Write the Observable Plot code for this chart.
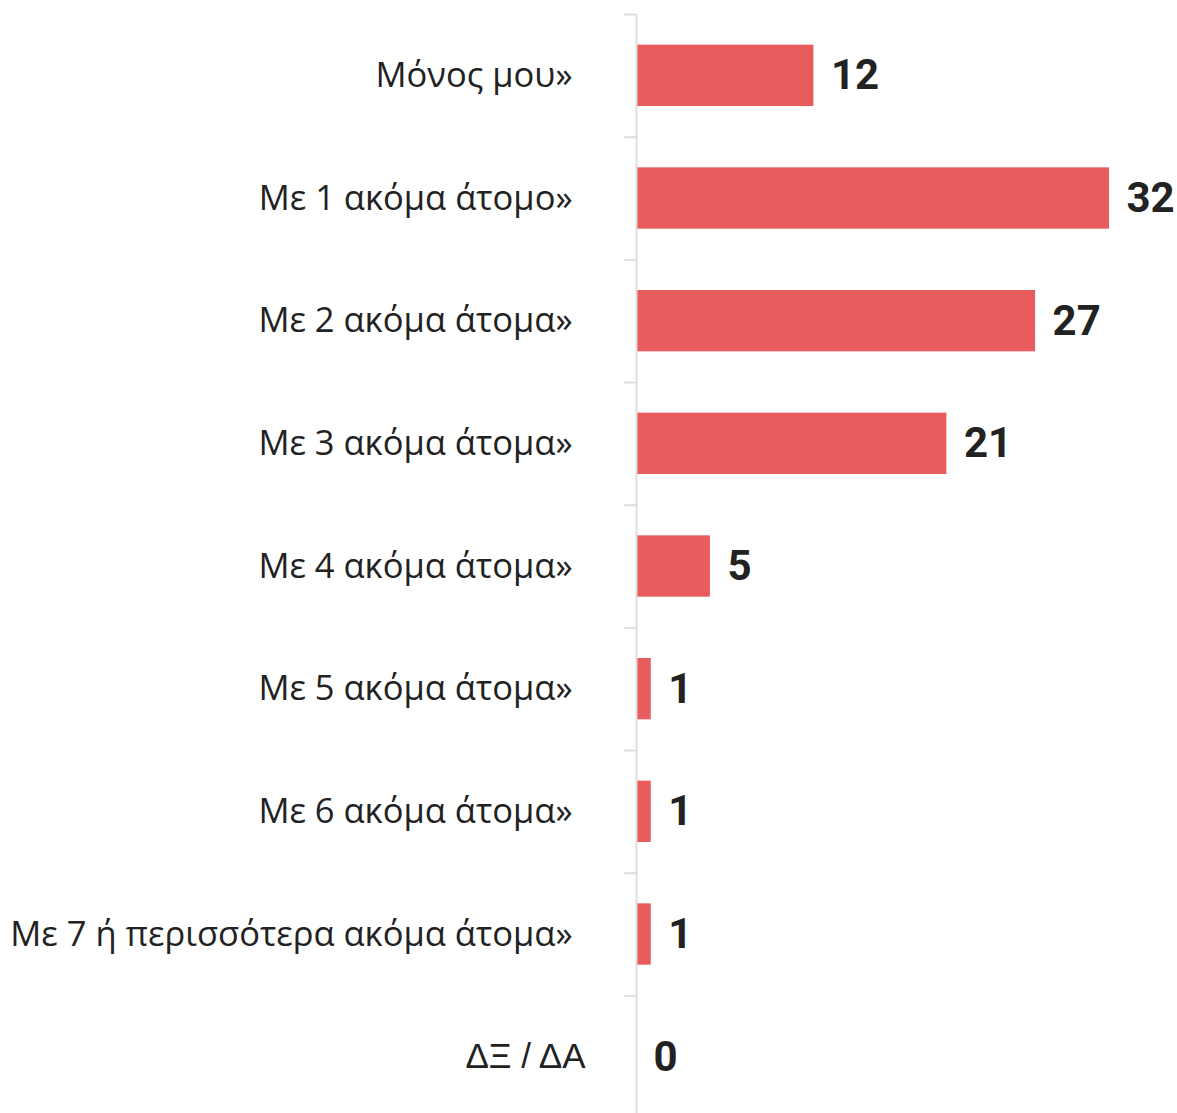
<!DOCTYPE html>
<html>
<head>
<meta charset="utf-8">
<script src="https://cdn.jsdelivr.net/npm/d3@7"></script>
<script src="https://cdn.jsdelivr.net/npm/@observablehq/plot@0.6"></script>
<style>
  html, body { margin: 0; padding: 0; background: #fff; overflow: hidden; }
  #chart svg { display: block; }
</style>
</head>
<body>
<div id="chart"></div>
<script>
const categories = [
  "Μόνος μου»",
  "Με 1 ακόμα άτομο»",
  "Με 2 ακόμα άτομα»",
  "Με 3 ακόμα άτομα»",
  "Με 4 ακόμα άτομα»",
  "Με 5 ακόμα άτομα»",
  "Με 6 ακόμα άτομα»",
  "Με 7 ή περισσότερα ακόμα άτομα»",
  "ΔΞ / ΔΑ"
];
const values = [12, 32, 27, 21, 5, 1, 1, 1, 0];

const data = categories.map((c, i) => ({category: c, value: values[i]}));

const width = 1177, height = 1118;
const marginLeft = 636, marginRight = 68, marginTop = 14, marginBottom = 0;
const xMax = 32;
const step = (height - marginTop - marginBottom) / categories.length;
const tickLen = 12;
const tickX = -tickLen / ((width - marginLeft - marginRight) / xMax);

const chart = Plot.plot({
  width, height, marginLeft, marginRight, marginTop, marginBottom,
  x: {domain: [0, xMax], axis: null},
  y: {domain: categories, axis: null, paddingInner: 0.5, paddingOuter: 0.25, round: false},
  style: {background: "#fff"},
  marks: [
    Plot.barX(data, {x: "value", y: "category", fill: "#E85C5E"}),
    Plot.ruleX([0], {stroke: "#dedede", strokeWidth: 2}),
    Plot.ruleY(categories, {y: d => d, x1: tickX, x2: 0, dy: -step / 2, stroke: "#dedede", strokeWidth: 2}),
    Plot.text(data, {filter: d => d.category.endsWith("»"), x: 0, y: "category", text: "category",
      textAnchor: "end", dx: -64, fontFamily: "Open Sans", fontSize: 34.5, fill: "#222"}),
    Plot.text(data, {filter: d => !d.category.endsWith("»"), x: 0, y: "category", text: "category",
      textAnchor: "end", dx: -51, fontFamily: "Liberation Sans", fontSize: 35, fill: "#222"}),
    Plot.text(data, {x: "value", y: "category", text: d => String(d.value), textAnchor: "start", dx: 17,
      fontFamily: "Roboto", fontWeight: 700, fontSize: 42, fill: "#222"})
  ]
});
document.getElementById("chart").append(chart);
</script>
</body>
</html>
